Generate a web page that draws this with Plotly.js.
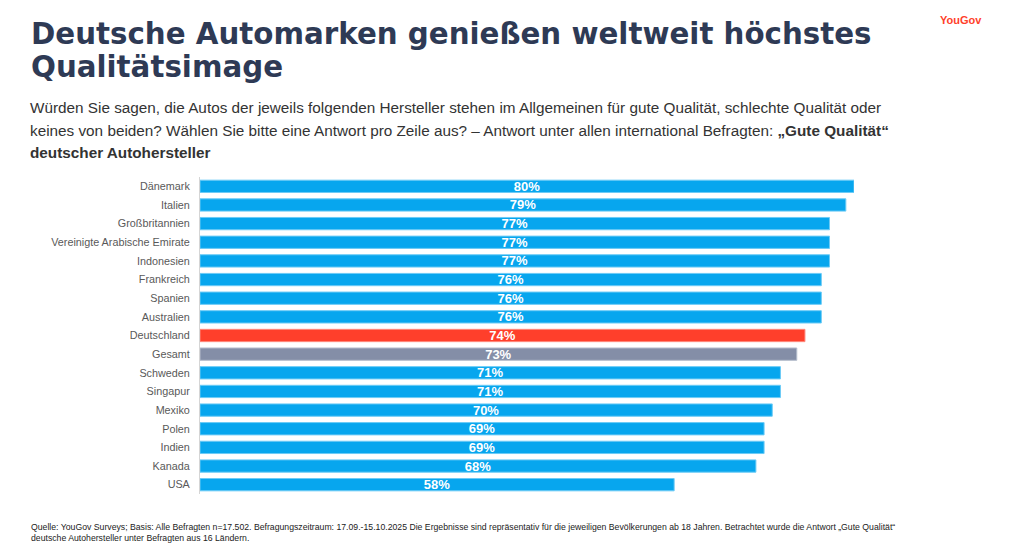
<!DOCTYPE html>
<html><head><meta charset="utf-8">
<script src="https://cdn.plot.ly/plotly-3.0.1.min.js"></script>
<style>html,body{margin:0;padding:0;background:#fff}#chart{width:1024px;height:551px}</style>
</head><body><div id="chart"></div>
<script>
var countries = ["Dänemark","Italien","Großbritannien","Vereinigte Arabische Emirate","Indonesien","Frankreich","Spanien","Australien","Deutschland","Gesamt","Schweden","Singapur","Mexiko","Polen","Indien","Kanada","USA"];
var values = [80,79,77,77,77,76,76,76,74,73,71,71,70,69,69,68,58];
var highlight = "Deutschland";
var total = "Gesamt";

var colors = countries.map(function(c){ return c===highlight ? "#FF3F2B" : (c===total ? "#848EA7" : "#07A6EE"); });
var lines = countries.map(function(c){ return c===highlight ? "#FF8A7D" : (c===total ? "#B5BCCB" : "#6CCBF6"); });

var trace = {
  type: "bar", orientation: "h",
  y: countries, x: values,
  marker: {color: colors, line: {color: lines, width: 1}},
  width: 0.66,
  text: values.map(function(v){return v+"%";}),
  textposition: "inside", insidetextanchor: "middle", constraintext: "none",
  textfont: {family: "Liberation Sans, Arial, sans-serif", size: 13, color: "#fff", weight: "bold"},
  hoverinfo: "none"
};

var font = "Liberation Sans, Arial, sans-serif";
var PL = 200, PW = 654, PT = 177, PH = 317;
function px(x){ return (x - PL) / PW; }
function py(y){ return 1 - (y - PT) / PH; }
function ann(text, x, y, size, color, extra){
  var a = {text: text, xref: "paper", yref: "paper", x: px(x), y: py(y), xanchor: "left", yanchor: "middle",
           align: "left", showarrow: false, borderpad: 0, font: {family: font, size: size, color: color}};
  if (extra) for (var k in extra) a[k] = extra[k];
  return a;
}
var titleFont = {family: "DejaVu Sans, Verdana, sans-serif", size: 29.3, color: "#2E3A55", weight: "bold"};
var layout = {
  width: 1024, height: 551,
  margin: {l: PL, r: 1024 - PL - PW, t: PT, b: 551 - PT - PH},
  paper_bgcolor: "#fff", plot_bgcolor: "#fff",
  showlegend: false,
  xaxis: {range: [0, 80], visible: false, fixedrange: true},
  yaxis: {autorange: "reversed", showline: true, linecolor: "#D5D5D5", linewidth: 1,
          ticks: "", ticklabelstandoff: 7, showgrid: false, zeroline: false,
          tickfont: {family: font, size: 10.8, color: "#595959"}},
  annotations: [
    ann("Deutsche Automarken genießen weltweit höchstes", 30, 34, 29.3, "#2E3A55", {font: titleFont}),
    ann("Qualitätsimage", 30, 67, 29.3, "#2E3A55", {font: titleFont}),
    ann("Würden Sie sagen, die Autos der jeweils folgenden Hersteller stehen im Allgemeinen für gute Qualität, schlechte Qualität oder", 29, 107, 15.3, "#333"),
    ann("keines von beiden? Wählen Sie bitte eine Antwort pro Zeile aus? – Antwort unter allen international Befragten: <b>„Gute Qualität“</b>", 29, 130, 15.3, "#333"),
    ann("<b>deutscher Autohersteller</b>", 29, 152, 15.3, "#333"),
    ann("YouGov", 961, 20, 11, "#FF3F2B", {xanchor: "center", font: {family: font, size: 11, color: "#FF3F2B", weight: "bold"}}),
    ann("Quelle: YouGov Surveys; Basis: Alle Befragten n=17.502. Befragungszeitraum: 17.09.-15.10.2025 Die Ergebnisse sind repräsentativ für die jeweiligen Bevölkerungen ab 18 Jahren. Betrachtet wurde die Antwort „Gute Qualität“<br>deutsche Autohersteller unter Befragten aus 16 Ländern.", 30, 532, 8.7, "#222")
  ]
};
Plotly.newPlot("chart", [trace], layout, {staticPlot: true, displayModeBar: false});
</script></body></html>
